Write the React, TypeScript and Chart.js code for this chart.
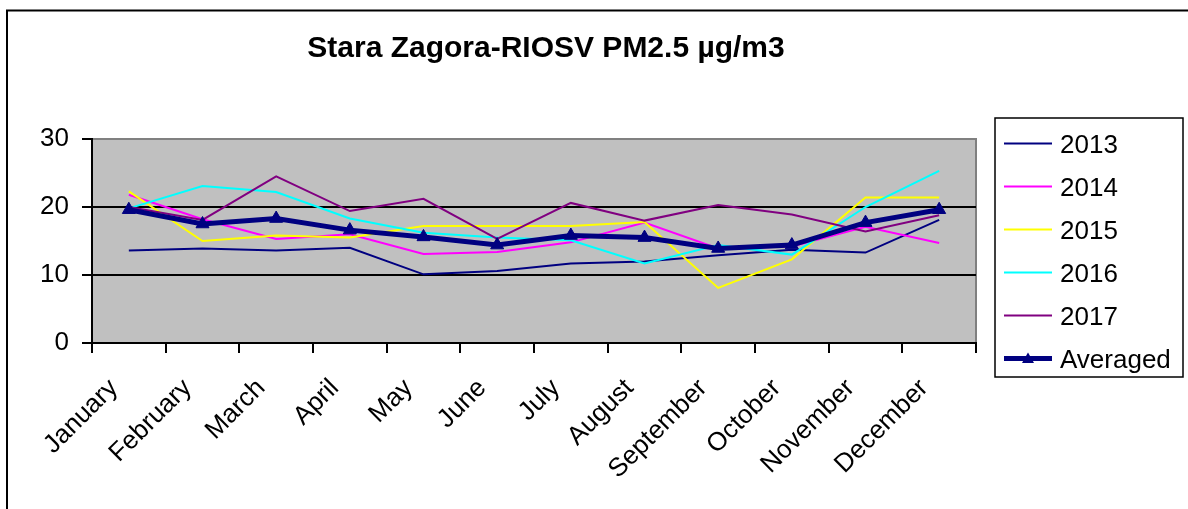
import React, { useEffect, useRef } from "react";
import { Chart, registerables } from "chart.js";

Chart.register(...registerables);

const TITLE = "Stara Zagora-RIOSV PM2.5 µg/m3";
const months = ["January", "February", "March", "April", "May", "June", "July", "August", "September", "October", "November", "December"];
const yTicks = [0, 10, 20, 30];

const seriesNames = ["2013", "2014", "2015", "2016", "2017", "Averaged"];
const values2013 = [13.6, 13.9, 13.6, 14.0, 10.1, 10.6, 11.7, 12.0, 12.9, 13.7, 13.3, 18.1];
const values2014 = [21.8, 18.2, 15.3, 16.0, 13.1, 13.4, 14.8, 17.7, 13.9, 14.2, 17.1, 14.7];
const values2015 = [22.3, 15.0, 15.8, 15.5, 17.2, 17.2, 17.2, 17.8, 8.1, 12.3, 21.4, 21.4];
const values2016 = [19.8, 23.1, 22.2, 18.3, 16.2, 15.5, 15.1, 11.7, 14.4, 13.0, 20.0, 25.3];
const values2017 = [20.0, 18.1, 24.5, 19.4, 21.2, 15.3, 20.6, 18.0, 20.3, 18.9, 16.4, 18.8];
const valuesAvg = [19.6, 17.5, 18.3, 16.6, 15.6, 14.4, 15.8, 15.5, 13.9, 14.4, 17.7, 19.6];

const colors = ["#000080", "#FF00FF", "#FFFF00", "#00FFFF", "#800080", "#000080"];
const FONT = "'Liberation Sans', Arial, sans-serif";

const framePlugin = {
  id: "frame",
  beforeDraw(chart: any) {
    const { ctx, chartArea: a } = chart;
    ctx.save();
    ctx.fillStyle = "#FFFFFF";
    ctx.fillRect(0, 0, chart.width, chart.height);
    ctx.strokeStyle = "#000000";
    ctx.lineWidth = 2;
    ctx.strokeRect(7, 10.5, 3000, 3000);
    ctx.fillStyle = "#C0C0C0";
    ctx.fillRect(a.left, a.top, a.right - a.left, a.bottom - a.top);
    ctx.strokeStyle = "#808080";
    ctx.lineWidth = 2;
    ctx.beginPath();
    ctx.moveTo(a.left, a.top);
    ctx.lineTo(a.right, a.top);
    ctx.lineTo(a.right, a.bottom);
    ctx.stroke();
    ctx.restore();
  },
  afterDraw(chart: any) {
    const { ctx } = chart;
    ctx.save();
    // title
    ctx.fillStyle = "#000";
    ctx.font = `bold 30px ${FONT}`;
    ctx.textAlign = "center";
    ctx.textBaseline = "alphabetic";
    ctx.fillText(TITLE, 546, 57);
    // legend
    const bx = 995, by = 118, bw = 188, bh = 259;
    ctx.fillStyle = "#FFF";
    ctx.fillRect(bx, by, bw, bh);
    ctx.strokeStyle = "#000";
    ctx.lineWidth = 1.5;
    ctx.strokeRect(bx, by, bw, bh);
    ctx.font = `26px ${FONT}`;
    ctx.textAlign = "left";
    chart.data.datasets.forEach((ds: any, i: number) => {
      const y = 143.5 + i * 43;
      ctx.strokeStyle = ds.borderColor;
      ctx.lineWidth = ds.borderWidth;
      ctx.beginPath();
      ctx.moveTo(1004, y);
      ctx.lineTo(1052, y);
      ctx.stroke();
      if (ds.pointRadius > 0) {
        ctx.fillStyle = ds.pointBackgroundColor;
        ctx.beginPath();
        ctx.moveTo(1028, y - 6);
        ctx.lineTo(1034, y + 4.5);
        ctx.lineTo(1022, y + 4.5);
        ctx.closePath();
        ctx.fill();
      }
      ctx.fillStyle = "#000";
      ctx.fillText(ds.label, 1060, y + 9);
    });
    ctx.restore();
  },
};

export default function App() {
  const ref = useRef<HTMLCanvasElement | null>(null);
  useEffect(() => {
    if (!ref.current) return;
    const all = [values2013, values2014, values2015, values2016, values2017, valuesAvg];
    const datasets = all.map((vals, i) => {
      const isAvg = i === 5;
      return {
        label: seriesNames[i],
        data: vals,
        borderColor: colors[i],
        backgroundColor: colors[i],
        borderWidth: isAvg ? 5 : 2,
        pointRadius: isAvg ? 7.5 : 0,
        pointStyle: "triangle",
        pointBackgroundColor: colors[i],
        pointBorderColor: colors[i],
        pointBorderWidth: 1,
        tension: 0,
        fill: false,
        order: isAvg ? 0 : 5 - i,
      };
    });
    const chart = new Chart(ref.current, {
      type: "line",
      data: { labels: months, datasets },
      options: {
        animation: false,
        responsive: false,
        devicePixelRatio: 1,
        layout: { padding: { left: 0, top: 139, right: 212, bottom: 0 } },
        plugins: {
          legend: { display: false },
          title: { display: false },
          tooltip: { enabled: false },
        },
        scales: {
          x: {
            type: "category",
            offset: true,
            grid: {
              offset: true,
              drawOnChartArea: false,
              drawTicks: true,
              tickLength: 10,
              color: "#000",
              lineWidth: 2,
            },
            border: { display: true, color: "#000", width: 2 },
            ticks: {
              autoSkip: false,
              minRotation: 45,
              maxRotation: 45,
              padding: 20,
              labelOffset: -15,
              color: "#000",
              font: { family: FONT, size: 26 },
            },
            afterFit(scale: any) {
              scale.height = 166;
              scale.paddingLeft = 0;
              scale.paddingRight = 0;
            },
          },
          y: {
            min: 0,
            max: 30,
            afterBuildTicks(scale: any) {
              scale.ticks = yTicks.map((v) => ({ value: v }));
            },
            grid: {
              color: (c: any) => (c.tick && c.tick.value === 30 ? "#808080" : "#000"),
              tickColor: "#000",
              lineWidth: 2,
              tickLength: 10,
            },
            border: { display: true, color: "#000", width: 2 },
            ticks: {
              padding: 13,
              color: "#000",
              font: { family: FONT, size: 26 },
            },
            afterFit(scale: any) {
              scale.width = 92;
            },
          },
        },
      },
      plugins: [framePlugin],
    } as any);
    return () => chart.destroy();
  }, []);
  return (
    <div style={{ position: "absolute", left: 0, top: 0, width: 1188, height: 509 }}>
      <canvas ref={ref} width={1188} height={509} style={{ width: 1188, height: 509 }} />
    </div>
  );
}
